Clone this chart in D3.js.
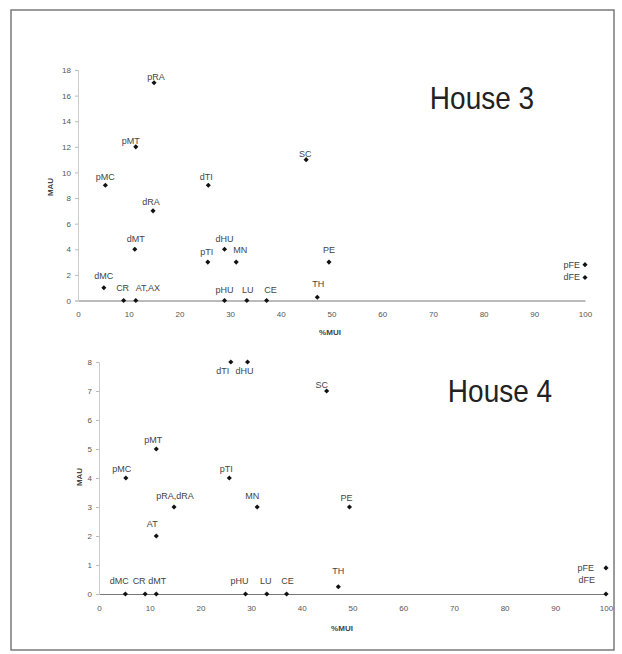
<!DOCTYPE html>
<html><head><meta charset="utf-8">
<script src="https://cdn.jsdelivr.net/npm/d3@7"></script>
<style>
body{margin:0;background:#fff}
svg{display:block}
text{font-family:"Liberation Sans",Arial,sans-serif}
</style></head>
<body><svg id="c" width="622" height="654"></svg>
<script>
// ---------- data ----------
const xTicks = [0,10,20,30,40,50,60,70,80,90,100];
const house3YTicks = [0,2,4,6,8,10,12,14,16,18];
const house4YTicks = [0,1,2,3,4,5,6,7,8];

const house3Labels = ["pRA","pMT","pMC","dTI","SC","dRA","dMT","dHU","pTI","MN","PE","dMC","CR","AT,AX","pHU","LU","CE","TH","pFE","dFE"];
const house3MUI    = [15.0, 11.4, 5.4, 25.7, 45.0, 14.8, 11.2, 28.9, 25.6, 31.2, 49.5, 5.1, 9.0, 11.4, 28.9, 33.3, 37.2, 47.2, 100, 100];
const house3MAU    = [17, 12, 9, 9, 11, 7, 4, 4, 3, 3, 3, 1, 0, 0, 0, 0, 0, 0.25, 2.8, 1.8];

const house4Labels = ["dTI","dHU","SC","pMT","pMC","pTI","pRA,dRA","MN","PE","AT","dMC","CR","dMT","pHU","LU","CE","TH","pFE","dFE"];
const house4MUI    = [26.0, 29.3, 44.9, 11.3, 5.3, 25.7, 14.8, 31.2, 49.4, 11.3, 5.2, 9.1, 11.3, 28.9, 33.1, 37.0, 47.2, 100, 100];
const house4MAU    = [8, 8, 7, 5, 4, 4, 3, 3, 3, 2, 0, 0, 0, 0, 0, 0, 0.25, 0.9, 0];

// ---------- label layout (offsets from point, px) ----------
const house3LabelPos = {
  "pRA":[2,-3], "pMT":[-5,-3], "pMC":[0,-5], "dTI":[-2,-5], "SC":[-1,-3], "dRA":[-2,-6],
  "dMT":[1,-7], "dHU":[0,-7], "pTI":[-1,-7], "MN":[4,-9], "PE":[0,-9], "dMC":[0,-9],
  "CR":[-1,-10], "AT,AX":[12,-10], "pHU":[0,-8], "LU":[1,-8], "CE":[4,-8], "TH":[1,-10],
  "pFE":[-5,3,"end"], "dFE":[-5,3,"end"]
};
const house4LabelPos = {
  "dTI":[-8,12], "dHU":[-3,12], "SC":[-5,-3], "pMT":[-3,-6], "pMC":[-4,-6], "pTI":[-3,-6],
  "pRA,dRA":[1,-8], "MN":[-5,-8], "PE":[-3,-6], "AT":[-4,-9], "dMC":[-6,-10], "CR":[-6,-10],
  "dMT":[1,-10], "pHU":[-6,-10], "LU":[-1,-10], "CE":[1,-10], "TH":[0,-13],
  "pFE":[-12,3,"end"], "dFE":[-11,-11,"end"]
};

// ---------- drawing ----------
const FONT = '"Liberation Sans", Arial, sans-serif';
const svg = d3.select("#c");
svg.append("rect").attr("x",0).attr("y",0).attr("width",622).attr("height",654).attr("fill","#fff");
// frame
svg.append("rect").attr("x",11).attr("y",10).attr("width",603).attr("height",640)
  .attr("fill","none").attr("stroke","#666").attr("stroke-width",1.3);

function panel(cfg){
  const x = d3.scaleLinear().domain([0,100]).range([cfg.x0, cfg.x1]);
  const y = d3.scaleLinear().domain([0, cfg.yMax]).range([cfg.y0, cfg.y1]);
  const g = svg.append("g");

  // x axis
  const xa = g.append("g").attr("transform",`translate(0,${cfg.y0})`)
    .call(d3.axisBottom(x).tickValues(xTicks).tickSize(0).tickPadding(11));
  xa.select(".domain").attr("stroke","#777").attr("stroke-width",1.2);
  xa.selectAll("text").attr("font-size",8).attr("fill","#555").attr("font-family",FONT);

  // y axis
  const ya = g.append("g").attr("transform",`translate(${cfg.x0},0)`)
    .call(d3.axisLeft(y).tickValues(cfg.yTicks).tickSize(3).tickPadding(4));
  ya.select(".domain").attr("stroke","#ccc").attr("stroke-width",1);
  ya.selectAll(".tick line").attr("stroke","#bbb");
  ya.selectAll("text").attr("font-size",8).attr("fill","#555").attr("font-family",FONT);

  // axis titles
  g.append("text").attr("transform",`translate(${cfg.mauX},${cfg.mauY}) rotate(-90)`)
    .attr("text-anchor","middle").attr("dy","0.35em")
    .attr("font-size",8).attr("font-weight","bold").attr("fill","#444").text("MAU");
  g.append("text").attr("x",cfg.muiX).attr("y",cfg.muiY)
    .attr("text-anchor","middle").attr("dy","0.35em")
    .attr("font-size",8).attr("font-weight","bold").attr("fill","#444").text("%MUI");

  // title
  g.append("text").attr("transform",`translate(${cfg.titleX},${cfg.titleY}) scale(1,1.12)`)
    .attr("text-anchor","middle").attr("font-size",28).attr("fill","#222").text(cfg.title);

  // points
  const data = cfg.labels.map((l,i)=>({l, mx: cfg.xs[i], my: cfg.ys[i]}));
  const sym = d3.symbol().type(d3.symbolSquare).size(13);
  g.selectAll("path.pt").data(data).join("path").attr("class","pt")
    .attr("d", sym)
    .attr("transform", d=>`translate(${x(d.mx)},${y(d.my)}) rotate(45)`)
    .attr("fill","#111");

  // labels
  g.selectAll("text.lbl").data(data).join("text").attr("class","lbl")
    .attr("x", d=>x(d.mx) + cfg.pos[d.l][0])
    .attr("y", d=>y(d.my) + cfg.pos[d.l][1])
    .attr("text-anchor", d=>cfg.pos[d.l][2] || "middle")
    .attr("font-size",9).attr("fill","#444")
    .text(d=>d.l);
}

panel({x0:78, x1:585, y0:300.5, y1:70, yMax:18, yTicks:house3YTicks,
  labels:house3Labels, xs:house3MUI, ys:house3MAU, pos:house3LabelPos,
  mauX:50, mauY:187, muiX:330, muiY:332, title:"House 3", titleX:482, titleY:109});

panel({x0:99, x1:606, y0:594, y1:362, yMax:8, yTicks:house4YTicks,
  labels:house4Labels, xs:house4MUI, ys:house4MAU, pos:house4LabelPos,
  mauX:79, mauY:477, muiX:342, muiY:628, title:"House 4", titleX:500, titleY:402});
</script>
</body></html>
